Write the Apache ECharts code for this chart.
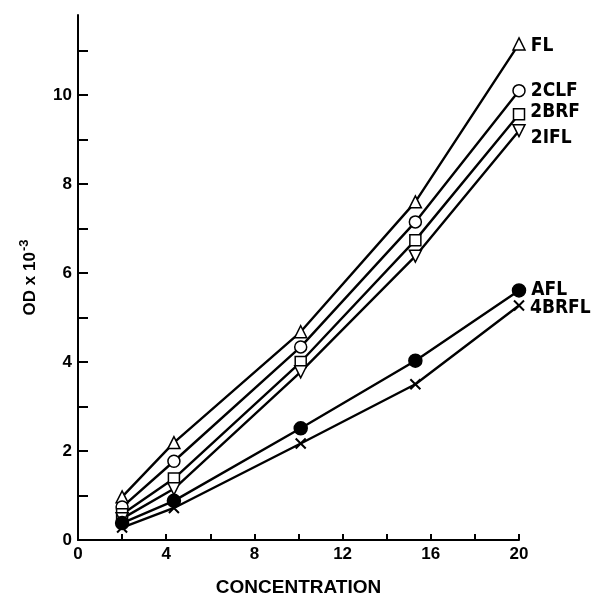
<!DOCTYPE html>
<html>
<head>
<meta charset="utf-8">
<script src="https://cdn.jsdelivr.net/npm/echarts@6/dist/echarts.min.js"></script>
<style>
    html, body { margin: 0; padding: 0; background: #fff; }
    #chart { width: 597px; height: 597px; }
</style>
</head>
<body>
<div id="chart"></div>
<script>
// concentration values shared by all curves
const concentration = [2, 4.35, 10.1, 15.3, 20];

const fl = [0.97, 2.19, 4.68, 7.6, 11.15];
const clf2 = [0.74, 1.77, 4.34, 7.15, 10.1];
const brf2 = [0.58, 1.38, 4.0, 6.74, 9.57];
const ifl2 = [0.48, 1.15, 3.78, 6.38, 9.2];
const afl = [0.38, 0.88, 2.51, 4.03, 5.61];
const brfl4 = [0.28, 0.72, 2.17, 3.5, 5.27];

const xTicks = [2, 4, 6, 8, 10, 12, 14, 16, 18, 20];
const xLabels = [0, 4, 8, 12, 16, 20];
const yTicks = [0, 1, 2, 3, 4, 5, 6, 7, 8, 9, 10, 11];
const yLabels = [0, 2, 4, 6, 8, 10];

const labelFont = "'DejaVu Sans Condensed', 'Liberation Sans Narrow', sans-serif";
const axisFont = "'Liberation Sans', Arial, sans-serif";

const makeSeries = (name, values, symbol, opts = {}) => {
    const data = values.map((v, i) => [concentration[i], v]);
    const last = data.length - 1;
    data[last] = {
        value: data[last],
        label: {
            show: true,
            position: 'right',
            distance: 5,
            offset: [0, opts.labelDy || 0],
            formatter: name,
            color: '#000',
            fontFamily: labelFont,
            fontWeight: 'bold',
            fontSize: 19
        }
    };
    return {
        name,
        type: 'line',
        data,
        symbol,
        symbolSize: opts.size || 12,
        symbolRotate: opts.rotate || 0,
        showAllSymbol: true,
        clip: false,
        z: 3,
        lineStyle: { color: '#000', width: 2.4 },
        itemStyle: {
            color: opts.fill || '#fff',
            borderColor: '#000',
            borderWidth: opts.border || 1.5
        },
        emphasis: { disabled: true }
    };
};

const chart = echarts.init(document.getElementById('chart'), null, { renderer: 'canvas' });

const tickFont = {
    color: '#000',
    fontFamily: axisFont,
    fontWeight: 'bold',
    fontSize: 17
};

chart.setOption({
    animation: false,
    backgroundColor: '#fff',
    grid: { left: 78, right: 78, top: 15, bottom: 57, containLabel: false, outerBoundsMode: 'none' },
    xAxis: {
        type: 'value',
        min: 0,
        max: 20,
        interval: 2,
        name: 'CONCENTRATION',
        nameLocation: 'middle',
        nameGap: 38,
        nameTextStyle: {
            color: '#000',
            fontFamily: axisFont,
            fontWeight: 'bold',
            fontSize: 19
        },
        axisLine: { lineStyle: { color: '#000', width: 2 } },
        axisTick: {
            show: true,
            inside: true,
            length: 6,
            customValues: xTicks,
            lineStyle: { color: '#000', width: 2 }
        },
        axisLabel: Object.assign({ customValues: xLabels, margin: 6 }, tickFont),
        splitLine: { show: false }
    },
    yAxis: {
        type: 'value',
        min: 0,
        max: 11.8,
        interval: 1,
        name: 'OD x 10{sup|-3}',
        nameLocation: 'middle',
        nameGap: 35,
        nameTextStyle: {
            color: '#000',
            fontFamily: axisFont,
            fontWeight: 'bold',
            fontSize: 17,
            rich: {
                sup: {
                    color: '#000',
                    fontFamily: axisFont,
                    fontWeight: 'bold',
                    fontSize: 13,
                    verticalAlign: 'top',
                    padding: [0, 0, 12, 1]
                }
            }
        },
        axisLine: { lineStyle: { color: '#000', width: 2 } },
        axisTick: {
            show: true,
            inside: true,
            length: 10,
            customValues: yTicks,
            lineStyle: { color: '#000', width: 2 }
        },
        axisLabel: Object.assign({ customValues: yLabels, margin: 6 }, tickFont),
        splitLine: { show: false }
    },
    series: [
        makeSeries('FL', fl, 'triangle', { labelDy: 2 }),
        makeSeries('2CLF', clf2, 'circle', { size: 12 }),
        makeSeries('2BRF', brf2, 'rect', { size: 11, labelDy: -2 }),
        makeSeries('2IFL', ifl2, 'triangle', { rotate: 180, labelDy: 7 }),
        makeSeries('AFL', afl, 'circle', { size: 13, fill: '#000' }),
        makeSeries('4BRFL', brfl4, 'path://M0,0L10,10M10,0L0,10', { size: 10, labelDy: 3, border: 2 })
    ]
});
</script>
</body>
</html>
